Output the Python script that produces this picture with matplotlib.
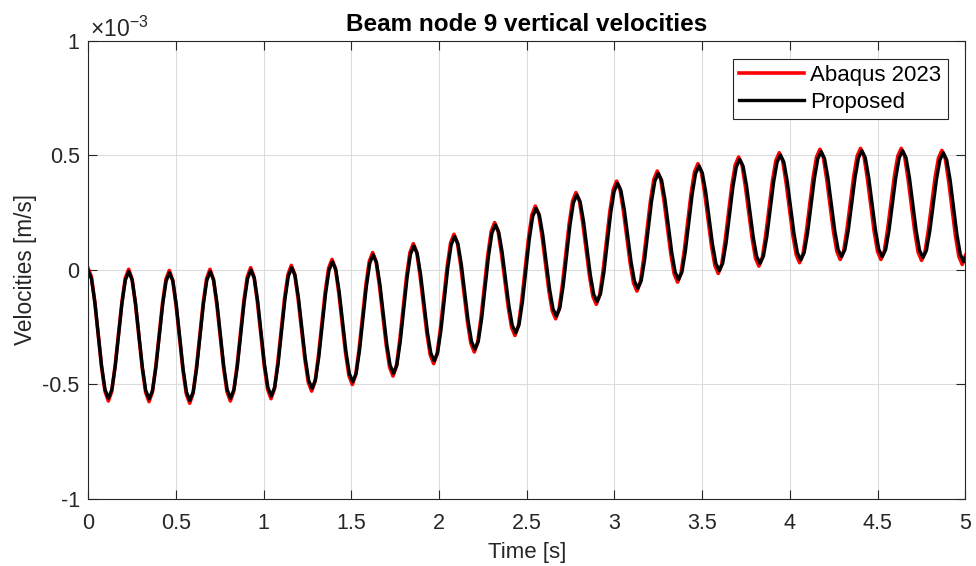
import numpy as np
from matplotlib import pyplot as plt
from matplotlib.ticker import FuncFormatter, MultipleLocator

plt.rcParams['font.family'] = ['Liberation Sans', 'DejaVu Sans']
plt.rcParams['mathtext.fontset'] = 'custom'
plt.rcParams['mathtext.rm'] = 'Liberation Sans'
plt.rcParams['mathtext.it'] = 'Liberation Sans'
plt.rcParams['axes.unicode_minus'] = False

# vertical velocity of beam node 9, in 1e-3 m/s
# one row per oscillation cycle (peak -> trough -> next peak)
vel_proposed = [
    0.000, -0.038, -0.140, -0.280, -0.420, -0.522, -0.560, -0.523, -0.422, -0.284, -0.145, -0.044,
    -0.007, -0.044, -0.146, -0.285, -0.424, -0.526, -0.563, -0.526, -0.425, -0.288, -0.150, -0.049,
    -0.012, -0.049, -0.152, -0.291, -0.431, -0.533, -0.570, -0.532, -0.429, -0.289, -0.148, -0.045,
    -0.007, -0.044, -0.145, -0.284, -0.422, -0.523, -0.560, -0.522, -0.420, -0.280, -0.140, -0.038,
    0.000, -0.037, -0.138, -0.275, -0.413, -0.513, -0.550, -0.512, -0.410, -0.270, -0.130, -0.028,
    0.010, -0.025, -0.122, -0.254, -0.385, -0.482, -0.517, -0.480, -0.379, -0.241, -0.102, -0.001,
    0.036, 0.001, -0.095, -0.226, -0.357, -0.453, -0.488, -0.451, -0.350, -0.211, -0.073, 0.029,
    0.066, 0.031, -0.063, -0.193, -0.322, -0.416, -0.451, -0.414, -0.312, -0.173, -0.034, 0.068,
    0.105, 0.071, -0.021, -0.146, -0.272, -0.363, -0.397, -0.361, -0.261, -0.126, 0.010, 0.110,
    0.146, 0.113, 0.023, -0.100, -0.223, -0.313, -0.346, -0.310, -0.210, -0.075, 0.061, 0.161,
    0.197, 0.165, 0.079, -0.039, -0.156, -0.242, -0.274, -0.238, -0.138, -0.003, 0.133, 0.233,
    0.269, 0.238, 0.152, 0.034, -0.084, -0.170, -0.201, -0.166, -0.069, 0.064, 0.196, 0.293,
    0.328, 0.297, 0.212, 0.095, -0.022, -0.107, -0.138, -0.103, -0.009, 0.120, 0.249, 0.343,
    0.378, 0.347, 0.264, 0.149, 0.035, -0.049, -0.080, -0.046, 0.046, 0.171, 0.297, 0.388,
    0.422, 0.391, 0.306, 0.191, 0.075, -0.010, -0.041, -0.008, 0.083, 0.207, 0.330, 0.421,
    0.454, 0.423, 0.340, 0.226, 0.111, 0.028, -0.003, 0.030, 0.119, 0.240, 0.362, 0.450,
    0.483, 0.453, 0.370, 0.256, 0.143, 0.059, 0.029, 0.061, 0.147, 0.266, 0.384, 0.470,
    0.502, 0.471, 0.388, 0.273, 0.159, 0.075, 0.044, 0.076, 0.162, 0.281, 0.399, 0.485,
    0.517, 0.486, 0.402, 0.288, 0.173, 0.089, 0.058, 0.089, 0.174, 0.290, 0.405, 0.490,
    0.521, 0.490, 0.405, 0.290, 0.174, 0.089, 0.058, 0.089, 0.174, 0.290, 0.405, 0.490,
    0.521, 0.490, 0.404, 0.288, 0.171, 0.085, 0.054, 0.085, 0.169, 0.283, 0.398, 0.481,
    0.512, 0.480, 0.393, 0.274, 0.155, 0.068, 0.036, 0.068,
]

vel_abaqus = [
    0.008, -0.030, -0.140, -0.282, -0.425, -0.530, -0.572, -0.530, -0.418, -0.280, -0.140, -0.035,
    0.003, -0.040, -0.150, -0.287, -0.428, -0.534, -0.575, -0.533, -0.420, -0.283, -0.143, -0.040,
    -0.002, -0.045, -0.156, -0.295, -0.436, -0.541, -0.582, -0.538, -0.425, -0.285, -0.142, -0.037,
    0.003, -0.040, -0.150, -0.286, -0.426, -0.531, -0.572, -0.529, -0.416, -0.276, -0.133, -0.030,
    0.010, -0.030, -0.142, -0.278, -0.418, -0.521, -0.562, -0.520, -0.405, -0.266, -0.124, -0.020,
    0.020, -0.018, -0.126, -0.258, -0.390, -0.490, -0.529, -0.487, -0.374, -0.236, -0.096, 0.008,
    0.046, 0.008, -0.100, -0.230, -0.362, -0.461, -0.500, -0.458, -0.345, -0.206, -0.067, 0.037,
    0.076, 0.038, -0.068, -0.197, -0.327, -0.424, -0.463, -0.421, -0.307, -0.168, -0.028, 0.076,
    0.115, 0.078, -0.026, -0.150, -0.277, -0.371, -0.409, -0.368, -0.256, -0.121, 0.016, 0.118,
    0.156, 0.120, 0.018, -0.104, -0.228, -0.321, -0.358, -0.317, -0.205, -0.070, 0.067, 0.169,
    0.207, 0.172, 0.074, -0.043, -0.161, -0.250, -0.286, -0.245, -0.133, 0.002, 0.139, 0.241,
    0.279, 0.245, 0.147, 0.030, -0.089, -0.178, -0.213, -0.173, -0.064, 0.069, 0.202, 0.301,
    0.338, 0.304, 0.207, 0.091, -0.027, -0.115, -0.150, -0.110, -0.004, 0.125, 0.255, 0.351,
    0.388, 0.354, 0.259, 0.145, 0.030, -0.057, -0.092, -0.053, 0.051, 0.176, 0.303, 0.396,
    0.432, 0.398, 0.301, 0.187, 0.070, -0.018, -0.053, -0.015, 0.088, 0.212, 0.336, 0.429,
    0.464, 0.430, 0.335, 0.222, 0.106, 0.020, -0.015, 0.023, 0.124, 0.245, 0.368, 0.458,
    0.493, 0.460, 0.365, 0.252, 0.138, 0.051, 0.017, 0.054, 0.152, 0.271, 0.390, 0.478,
    0.512, 0.478, 0.383, 0.269, 0.154, 0.067, 0.032, 0.069, 0.167, 0.286, 0.405, 0.493,
    0.527, 0.493, 0.397, 0.284, 0.168, 0.081, 0.046, 0.082, 0.179, 0.295, 0.411, 0.498,
    0.531, 0.497, 0.400, 0.286, 0.169, 0.081, 0.046, 0.082, 0.179, 0.295, 0.411, 0.498,
    0.531, 0.497, 0.399, 0.284, 0.166, 0.077, 0.042, 0.078, 0.174, 0.288, 0.404, 0.489,
    0.522, 0.487, 0.388, 0.270, 0.150, 0.060, 0.024, 0.066, 0.090,
]

# sampling steps (s) of the two signals
dt_proposed = 0.2321 / 12
dt_abaqus = 0.2317 / 12

t_proposed = np.arange(len(vel_proposed)) * dt_proposed
t_abaqus = np.arange(len(vel_abaqus)) * dt_abaqus

axcol = '#262626'

fig = plt.figure(figsize=(9.76, 5.66), dpi=100)
ax = fig.add_axes([0.0902, 0.1184, 0.8990, 0.8092])

ax.plot(t_abaqus, np.array(vel_abaqus) * 1e-3, '-', color='#ff0000', lw=2.6, label='Abaqus 2023')
ax.plot(t_proposed, np.array(vel_proposed) * 1e-3, '-', color='black', lw=2.4, label='Proposed')

ax.set_xlim(0, 5)
ax.set_ylim(-1e-3, 1e-3)
ax.xaxis.set_major_locator(MultipleLocator(0.5))
ax.yaxis.set_major_locator(MultipleLocator(0.5e-3))
ax.xaxis.set_major_formatter(FuncFormatter(lambda v, p: '%g' % v))
ax.yaxis.set_major_formatter(FuncFormatter(lambda v, p: '%g' % round(v * 1e3, 6)))

ax.grid(True, color='#dcdcdc', lw=0.8)
ax.set_axisbelow(True)
ax.tick_params(direction='in', length=6.5, width=0.8, colors=axcol, labelsize=15.5,
               top=True, right=True, pad=6)
ax.tick_params(axis='x', pad=10)
for s in ax.spines.values():
    s.set_color(axcol)
    s.set_linewidth(0.8)

ax.text(0.002, 0.999, r'$\times10^{-3}$', transform=ax.transAxes, fontsize=16.5,
        color=axcol, ha='left', va='bottom')

ax.set_title('Beam node 9 vertical velocities', fontsize=17.5, fontweight='bold', pad=7)
ax.set_xlabel('Time [s]', fontsize=16, color=axcol, labelpad=6)
ax.set_ylabel('Velocities [m/s]', fontsize=16.3, color=axcol, labelpad=4)

leg = ax.legend(loc='upper right', fontsize=16, fancybox=False, framealpha=1,
                edgecolor=axcol, handlelength=2.9, handletextpad=0.3,
                labelspacing=0.28, borderpad=0.28, borderaxespad=0.8)
leg.get_frame().set_linewidth(0.8)

plt.savefig('out.png', dpi=100)
